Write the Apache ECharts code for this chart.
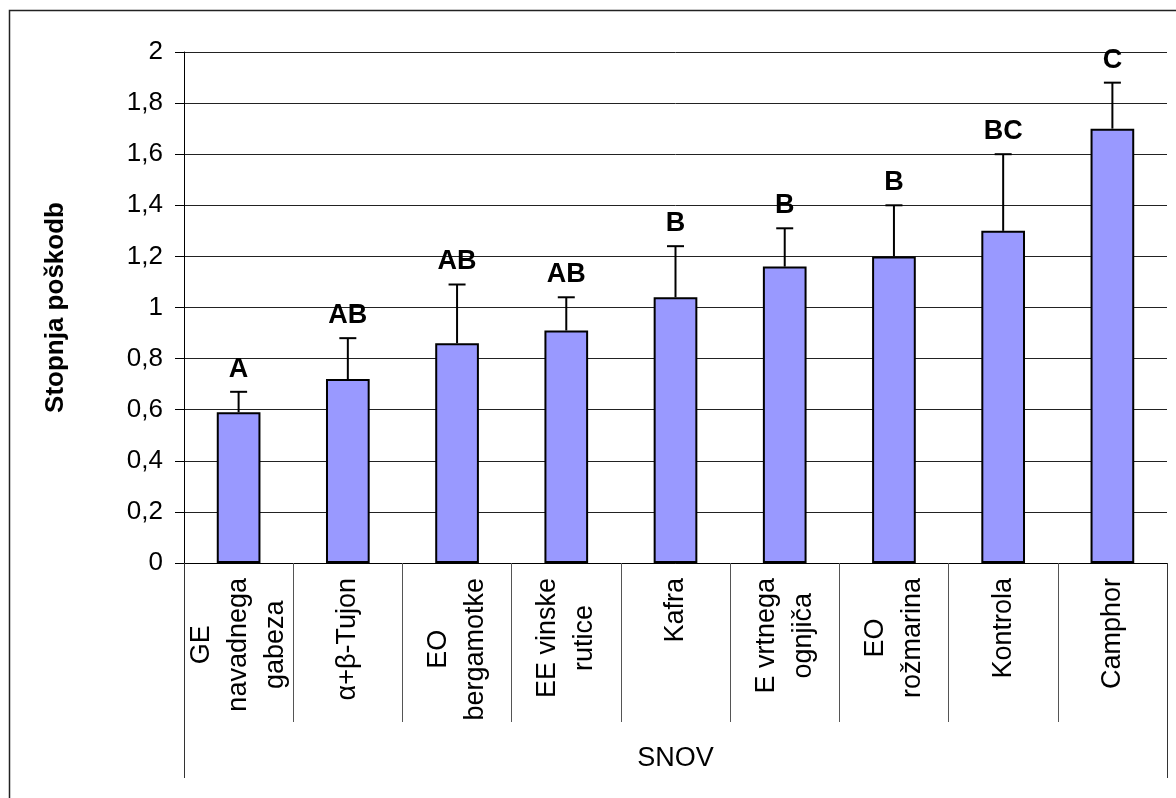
<!DOCTYPE html>
<html>
<head>
<meta charset="utf-8">
<script src="https://cdn.jsdelivr.net/npm/echarts@6/dist/echarts.min.js"></script>
<style>
  html, body { margin: 0; padding: 0; background: #fff; }
  #chart { width: 1176px; height: 798px; }
</style>
</head>
<body>
<div id="chart"></div>
<script>
// Treatments (lines of each label are split with \n)
const categories = [
  'GE\nnavadnega\ngabeza',
  'α+β-Tujon',
  'EO\nbergamotke',
  'EE vinske\nrutice',
  'Kafra',
  'E vrtnega\nognjiča',
  'EO\nrožmarina',
  'Kontrola',
  'Camphor'
];
// Mean damage level per treatment
const means = [0.59, 0.72, 0.86, 0.91, 1.04, 1.16, 1.20, 1.30, 1.70];
// Upper end of the error bar (mean + SD)
const upper = [0.67, 0.88, 1.09, 1.04, 1.24, 1.31, 1.40, 1.60, 1.88];
// Significance groups
const letters = ['A', 'AB', 'AB', 'AB', 'B', 'B', 'B', 'BC', 'C'];
const groupLabel = ['SNOV'];
const yTicks = { min: 0, max: 2, step: 0.2 };

const FONT = "'Liberation Sans', Arial, sans-serif";

const chart = echarts.init(document.getElementById('chart'), null, { renderer: 'canvas' });

const option = {
  backgroundColor: '#ffffff',
  animation: false,
  graphic: [{
    type: 'rect',
    shape: { x: 9.5, y: 10.5, width: 1300, height: 1000 },
    style: { fill: 'none', stroke: '#222', lineWidth: 1.5 },
    silent: true,
    z: -1
  }],
  grid: { left: 184, top: 52, right: 9, bottom: 235, containLabel: false },
  xAxis: [{
    type: 'category',
    data: categories,
    boundaryGap: true,
    axisLine: { show: true, lineStyle: { color: '#000', width: 1 } },
    axisTick: { show: true, alignWithLabel: false, interval: 0, length: 159, lineStyle: { color: '#555', width: 1 } },
    axisLabel: {
      interval: 0,
      rotate: 90,
      margin: 15,
      color: '#000',
      fontFamily: FONT,
      fontSize: 27,
      formatter: function (v) {
        return v.split('\n').map(function (s) { return '{c|' + s + '}'; }).join('\n');
      },
      rich: {
        c: { align: 'center', fontFamily: FONT, fontSize: 27, lineHeight: 37, color: '#000' }
      }
    },
    splitLine: { show: false }
  }, {
    type: 'category',
    data: groupLabel,
    position: 'bottom',
    boundaryGap: true,
    axisLine: { show: false },
    axisTick: { show: true, length: 215, lineStyle: { color: '#333', width: 1 } },
    axisLabel: { margin: 182, color: '#000', fontFamily: FONT, fontSize: 27 },
    splitLine: { show: false }
  }],
  yAxis: {
    type: 'value',
    min: yTicks.min,
    max: yTicks.max,
    interval: yTicks.step,
    name: 'Stopnja poškodb',
    nameLocation: 'middle',
    nameRotate: 90,
    nameGap: 115,
    nameTextStyle: { fontFamily: FONT, fontSize: 26, fontWeight: 'bold', color: '#000' },
    axisLine: { show: true, lineStyle: { color: '#000', width: 1 } },
    axisTick: { show: true, inside: false, length: 9, lineStyle: { color: '#000' } },
    axisLabel: {
      margin: 21,
      color: '#000',
      fontFamily: FONT,
      fontSize: 26,
      formatter: function (v) { return String(+v.toFixed(1)).replace('.', ','); }
    },
    splitLine: { show: true, lineStyle: { color: '#222', width: 1 } }
  },
  series: [{
    type: 'bar',
    xAxisIndex: 0,
    data: means,
    barWidth: '40%',
    itemStyle: { color: '#9999ff', borderColor: '#000', borderWidth: 2 },
    z: 2
  }, {
    type: 'custom',
    xAxisIndex: 0,
    data: means.map(function (m, i) { return [i, m, upper[i]]; }),
    encode: { x: 0, y: [1, 2] },
    z: 3,
    renderItem: function (params, api) {
      const i = api.value(0);
      const base = api.coord([i, api.value(1)]);
      const top = api.coord([i, api.value(2)]);
      const cap = 8.5;
      return {
        type: 'group',
        children: [{
          type: 'line',
          shape: { x1: base[0], y1: base[1], x2: top[0], y2: top[1] },
          style: { stroke: '#000', lineWidth: 2 }
        }, {
          type: 'line',
          shape: { x1: top[0] - cap, y1: top[1], x2: top[0] + cap, y2: top[1] },
          style: { stroke: '#000', lineWidth: 2 }
        }, {
          type: 'text',
          style: {
            text: letters[params.dataIndex],
            x: top[0],
            y: top[1] - 9,
            textAlign: 'center',
            textVerticalAlign: 'bottom',
            font: 'bold 27px ' + FONT,
            fill: '#000'
          }
        }]
      };
    }
  }]
};

chart.setOption(option);
</script>
</body>
</html>
